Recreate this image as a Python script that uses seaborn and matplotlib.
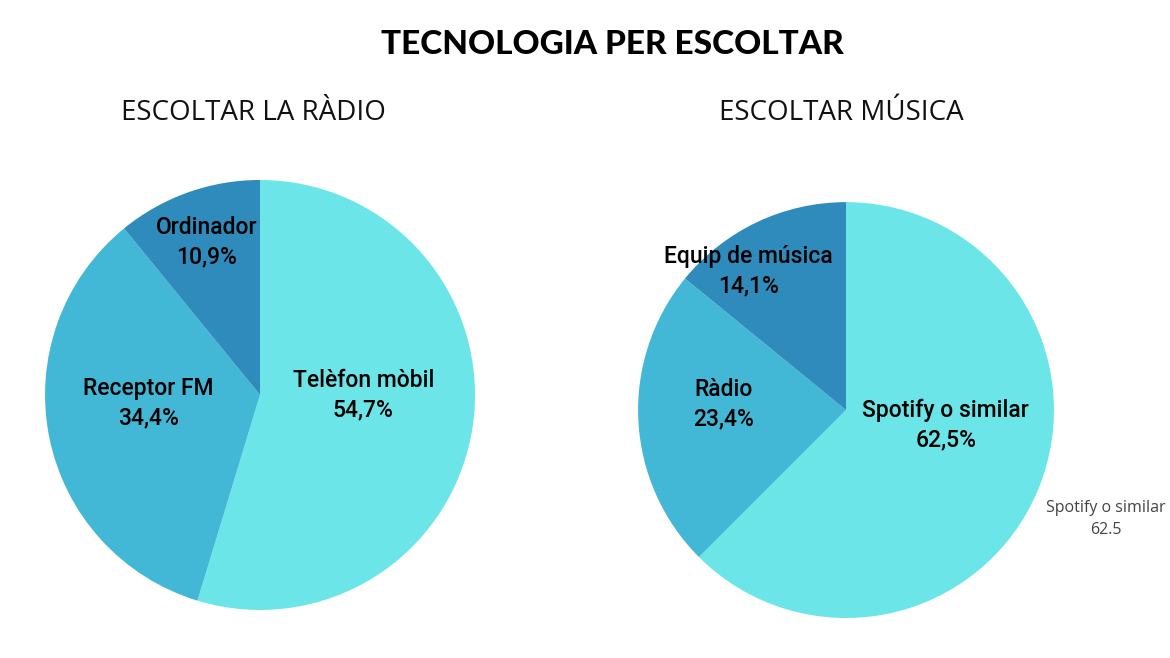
import matplotlib
matplotlib.use("Agg")
import matplotlib.pyplot as plt
import seaborn as sns

# dades
radio_cats = ["Telèfon mòbil", "Receptor FM", "Ordinador"]
radio_vals = [54.7, 34.4, 10.9]
musica_cats = ["Spotify o similar", "Ràdio", "Equip de música"]
musica_vals = [62.5, 23.4, 14.1]

colors = ["#6be5e8", "#43b8d6", "#2e8bbb"]

sns.set_theme(style="white")
plt.rcParams["font.family"] = ["Roboto", "DejaVu Sans"]

fig = plt.figure(figsize=(11.7, 6.58), dpi=100)
fig.patch.set_facecolor("white")


def pastis(ax, cats, vals, label_pos):
    wedges, _ = ax.pie(vals, colors=colors, startangle=90, counterclock=False,
                       radius=1, wedgeprops=dict(linewidth=0))
    for cat, v, (x, y) in zip(cats, vals, label_pos):
        txt = f"{cat}\n{v:.1f}%".replace(".", ",")
        ax.text(x, y, txt, ha="center", va="center", fontsize=16.5,
                fontweight="medium", linespacing=1.35, color="#000000")
    ax.set_xlim(-1, 1)
    ax.set_ylim(-1, 1)
    ax.set_aspect("equal")
    ax.axis("off")


ax1 = fig.add_axes([0.0385, 0.073, 0.3675, 0.6535])
pastis(ax1, radio_cats, radio_vals, [(0.48, 0.0), (-0.52, -0.04), (-0.25, 0.71)])

ax2 = fig.add_axes([0.5453, 0.0608, 0.3556, 0.632])
pastis(ax2, musica_cats, musica_vals, [(0.48, -0.07), (-0.59, 0.03), (-0.47, 0.67)])

fig.text(0.523, 0.933, "TECNOLOGIA PER ESCOLTAR", ha="center", va="center",
         fontsize=24, fontweight="black", color="black",
         family=["Lato", "DejaVu Sans"])
fig.text(0.217, 0.828, "ESCOLTAR LA RÀDIO", ha="center", va="center",
         fontsize=20, fontweight="normal", color="#111111",
         family=["Open Sans", "DejaVu Sans"])
fig.text(0.719, 0.828, "ESCOLTAR MÚSICA", ha="center", va="center",
         fontsize=20, fontweight="normal", color="#111111",
         family=["Open Sans", "DejaVu Sans"])

# etiqueta flotant
fig.text(0.945, 0.211, f"{musica_cats[0]}\n{musica_vals[0]}", ha="center", va="center",
         fontsize=11.5, color="#444444", linespacing=1.55,
         family=["Open Sans", "DejaVu Sans"])

fig.savefig("out.png", dpi=100, facecolor="white")
